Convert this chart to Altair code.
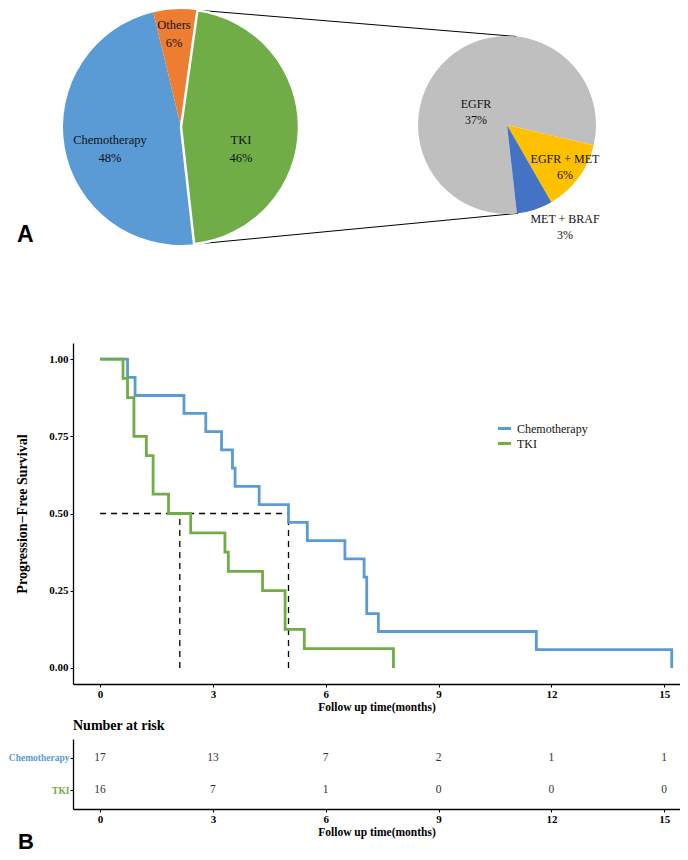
import math
import altair as alt
import pandas as pd

# ------------------------- data -------------------------
outer_labels = ["Chemotherapy", "Others", "TKI"]
outer_pct = [48, 6, 46]
inner_labels = ["EGFR", "EGFR + MET", "MET + BRAF"]
inner_pct = [37, 6, 3]

chemo_time = [0, 0.73, 0.93, 2.23, 2.81, 3.23, 3.52, 3.59, 4.23, 5.01, 5.51, 6.51, 7.02, 7.09, 7.40, 11.6, 15.2]
chemo_surv = [1.0, 0.941, 0.882, 0.824, 0.765, 0.706, 0.647, 0.588, 0.529, 0.471, 0.412, 0.353, 0.294, 0.176, 0.118, 0.059, 0.0]
tki_time = [0, 0.61, 0.73, 0.90, 1.23, 1.41, 1.82, 2.41, 3.32, 3.41, 4.32, 4.92, 5.43, 7.80]
tki_surv = [1.0, 0.9375, 0.875, 0.75, 0.6875, 0.5625, 0.5, 0.4375, 0.375, 0.3125, 0.25, 0.125, 0.0625, 0.0]
median_time = [2.12, 5.01]

groups = ["Chemotherapy", "TKI"]
risk_times = [0, 3, 6, 9, 12, 15]
chemo_risk = [17, 13, 7, 2, 1, 1]
tki_risk = [16, 7, 1, 0, 0, 0]

# ------------------------- style / layout -------------------------
SERIF = "Liberation Serif"
SANS = "Liberation Sans"
BLUE, GREEN = "#5B9BD5", "#70AD47"
outer_colors = [BLUE, "#ED7D31", GREEN]
inner_colors = ["#BFBFBF", "#FFC000", "#4472C4"]

OX = 73                    # page x of the plot origin (expected)
W = 607
TOP_H, KM_H, TAB_H = 279, 341, 70
GAP = 55
XMIN, XMAX = -0.72, 15.42

C1, R1 = (181 - OX, 118), 118
C2, R2 = (507 - OX, 116), 89
START = math.radians(173.6)
LH1, LH2 = 18, 15.5

# label block centres, relative to pie centres
pie1_label_off = {"Chemotherapy": (-71, 22), "Others": (-7, -93), "TKI": (60, 22)}
pie2_label_off = {"EGFR": (-31, -13), "EGFR + MET": (58, 42), "MET + BRAF": (58, 102)}


def pt(c, r, deg):
    a = math.radians(deg)
    return c[0] + r * math.sin(a), c[1] - r * math.cos(a)


# ------------------------- panel A -------------------------
outer_df = pd.DataFrame({"label": outer_labels, "pct": outer_pct, "idx": list(range(len(outer_labels)))})
outer_df["pct_text"] = [f"{p}%" for p in outer_pct]
outer_df["px"] = [C1[0] + pie1_label_off[l][0] for l in outer_labels]
outer_df["py1"] = [C1[1] + pie1_label_off[l][1] - LH1 / 2 for l in outer_labels]
outer_df["py2"] = [C1[1] + pie1_label_off[l][1] + LH1 / 2 for l in outer_labels]

inner_df = pd.DataFrame({"label": inner_labels, "pct": inner_pct, "idx": list(range(len(inner_labels)))})
inner_df["pct_text"] = [f"{p}%" for p in inner_pct]
inner_df["px"] = [C2[0] + pie2_label_off[l][0] for l in inner_labels]
inner_df["py1"] = [C2[1] + pie2_label_off[l][1] - LH2 / 2 for l in inner_labels]
inner_df["py2"] = [C2[1] + pie2_label_off[l][1] + LH2 / 2 for l in inner_labels]

# connector lines: TKI slice edges -> zoomed pie
tki_start = math.degrees(START) + 360 * (outer_pct[0] + outer_pct[1]) / 100
tki_end = math.degrees(START) + 360
a1, b1 = pt(C1, R1, tki_start), pt(C2, R2, 6)
a2, b2 = pt(C1, R1, tki_end), pt(C2, R2, 173)
conn_df = pd.DataFrame({"x": [a1[0], a2[0]], "y": [a1[1], a2[1]],
                        "x2": [b1[0], b2[0]], "y2": [b1[1], b2[1]]})

conn = alt.Chart(conn_df).mark_rule(color="black", strokeWidth=1).encode(
    x=alt.X("x:Q", scale=None), y=alt.Y("y:Q", scale=None),
    x2="x2:Q", y2="y2:Q")

pie1 = alt.Chart(outer_df).mark_arc(radius=R1, stroke="white", strokeJoin="round").encode(
    x=alt.value(C1[0]), y=alt.value(C1[1]),
    theta=alt.Theta("pct:Q", stack=True, scale=alt.Scale(range=[START, START + 2 * math.pi])),
    order=alt.Order("idx:Q"),
    color=alt.Color("label:N", scale=alt.Scale(domain=outer_labels, range=outer_colors), legend=None),
    strokeWidth=alt.condition(alt.datum.label == "TKI", alt.value(2.5), alt.value(0)),
)
pie2 = alt.Chart(inner_df).mark_arc(radius=R2).encode(
    x=alt.value(C2[0]), y=alt.value(C2[1]),
    theta=alt.Theta("pct:Q", stack=True, scale=alt.Scale(range=[START, START + 2 * math.pi])),
    order=alt.Order("idx:Q"),
    color=alt.Color("label:N", scale=alt.Scale(domain=inner_labels, range=inner_colors), legend=None),
)


def labels(df, size):
    name = alt.Chart(df).mark_text(font=SERIF, fontSize=size, color="#111", baseline="middle").encode(
        x=alt.X("px:Q", scale=None), y=alt.Y("py1:Q", scale=None), text="label:N")
    pct = alt.Chart(df).mark_text(font=SERIF, fontSize=size, color="#111", baseline="middle").encode(
        x=alt.X("px:Q", scale=None), y=alt.Y("py2:Q", scale=None), text="pct_text:N")
    return [name, pct]


letterA = alt.Chart(pd.DataFrame({"t": ["A"]})).mark_text(
    font=SANS, fontWeight="bold", fontSize=23, align="left", baseline="alphabetic", color="black"
).encode(x=alt.value(17 - OX), y=alt.value(233), text="t:N")

top = alt.layer(conn, pie1, pie2, *labels(outer_df, 12.5), *labels(inner_df, 12), letterA).resolve_scale(
    theta="independent", color="independent").properties(width=W, height=TOP_H)

# ------------------------- panel B : KM -------------------------
km_df = pd.concat([
    pd.DataFrame({"group": "Chemotherapy", "time": chemo_time, "surv": chemo_surv}),
    pd.DataFrame({"group": "TKI", "time": tki_time, "surv": tki_surv}),
])
x_scale = alt.Scale(domain=[XMIN, XMAX], nice=False, zero=False)
y_scale = alt.Scale(domain=[-0.052, 1.052], nice=False, zero=False)

x_axis_common = dict(values=risk_times, labelFont=SERIF, labelFontWeight="bold", labelFontSize=11,
                     labelColor="black", title="Follow up time(months)", titleFont=SERIF,
                     titleFontWeight="bold", titleFontSize=11.5, titleColor="black",
                     titlePadding=2, tickSize=3, labelPadding=1, domainColor="black",
                     domainWidth=1.3, tickColor="black", grid=False)

color_enc = alt.Color("group:N", scale=alt.Scale(domain=groups, range=[BLUE, GREEN]),
                      legend=alt.Legend(orient="none", legendX=498 - OX - 2,
                                        legendY=TOP_H + GAP + 77, title=None,
                                        symbolType="stroke", symbolStrokeWidth=3, symbolSize=170,
                                        labelFont=SERIF, labelFontSize=12, labelColor="#111",
                                        rowPadding=0, labelOffset=4))

base_line = alt.Chart(km_df).mark_line(interpolate="step-after", strokeWidth=2.8).encode(
    x=alt.X("time:Q", scale=x_scale, axis=alt.Axis(**x_axis_common)),
    y=alt.Y("surv:Q", scale=y_scale,
            axis=alt.Axis(values=[0, 0.25, 0.5, 0.75, 1.0], format=".2f", labelFont=SERIF,
                          labelFontWeight="bold", labelFontSize=11, labelColor="black",
                          title="Progression\u2212Free Survival", titleFont=SERIF,
                          titleFontWeight="bold", titleFontSize=14, titleColor="black",
                          titlePadding=19, tickSize=3, labelPadding=2, domainColor="black",
                          domainWidth=1.3, tickColor="black", grid=False)),
    color=color_enc,
)
line_chemo = base_line.transform_filter(alt.datum.group == "Chemotherapy")
line_tki = base_line.transform_filter(alt.datum.group == "TKI")

med_df = pd.DataFrame({
    "x": [0] + median_time,
    "x2": [max(median_time)] + median_time,
    "y": [0.5] + [0.0] * len(median_time),
    "y2": [0.5] + [0.5] * len(median_time),
})
med = alt.Chart(med_df).mark_rule(color="black", strokeDash=[6, 5], strokeWidth=1.3).encode(
    x=alt.X("x:Q", scale=x_scale), x2="x2:Q",
    y=alt.Y("y:Q", scale=y_scale), y2="y2:Q")

km = alt.layer(med, line_chemo, line_tki).properties(width=W, height=KM_H)

# ------------------------- risk table -------------------------
risk_df = pd.concat([
    pd.DataFrame({"group": "Chemotherapy", "time": risk_times, "n": chemo_risk}),
    pd.DataFrame({"group": "TKI", "time": risk_times, "n": tki_risk}),
])
tab_text = alt.Chart(risk_df).mark_text(font=SERIF, fontSize=11.5, color="#333").encode(
    x=alt.X("time:Q", scale=x_scale, axis=alt.Axis(**x_axis_common)),
    y=alt.Y("group:N", scale=alt.Scale(type="point", domain=groups, padding=0.59),
            axis=alt.Axis(title=None, labelFont=SERIF, labelFontWeight="bold", labelFontSize=9.5,
                          labelColor={"condition": {"test": "datum.value == 'TKI'", "value": GREEN},
                                      "value": BLUE},
                          tickSize=3, labelPadding=1, domainColor="black", domainWidth=1.3,
                          tickColor="black", grid=False)),
    text="n:Q",
)
letterB = alt.Chart(pd.DataFrame({"t": ["B"]})).mark_text(
    font=SANS, fontWeight="bold", fontSize=22, align="left", baseline="alphabetic", color="black"
).encode(x=alt.value(18 - OX), y=alt.value(110), text="t:N")

table = alt.layer(tab_text, letterB).properties(
    width=W, height=TAB_H,
    title=alt.TitleParams("Number at risk", anchor="start", frame="group", font=SERIF,
                          fontWeight="bold", fontSize=14, color="black", offset=6),
)

chart = alt.vconcat(top, km, table, spacing=GAP, bounds="flush").properties(
    padding={"left": 0, "top": 0, "right": 0, "bottom": 0}, background="white",
    autosize=alt.AutoSizeParams(type="pad"),
).configure_view(stroke=None)

chart.save("out.html", embed_options={"renderer": "svg", "actions": False})
